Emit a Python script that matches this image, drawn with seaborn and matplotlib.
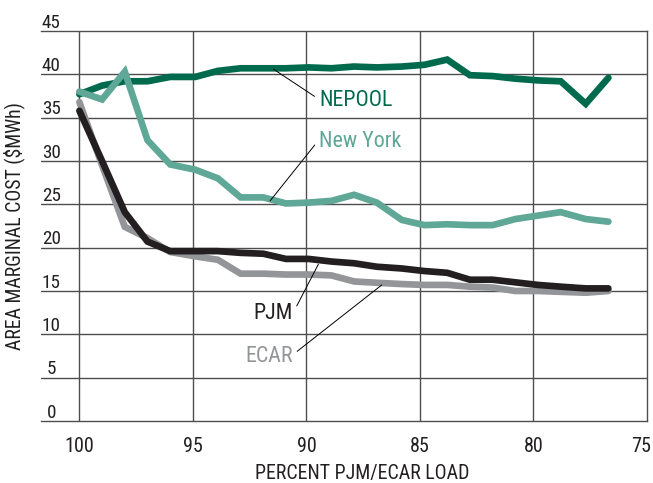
import pandas as pd
import seaborn as sns
import matplotlib.pyplot as plt
from matplotlib.transforms import ScaledTranslation

# percent PJM/ECAR load (x) and area marginal cost ($/MWh)
load = [100, 99, 98, 97, 96, 94.9, 93.9, 92.9, 91.9, 90.9, 89.9, 88.9,
        87.9, 86.9, 85.8, 84.8, 83.8, 82.8, 81.8, 80.8, 79.8, 78.8, 77.7, 76.7]
nepool = [37.7, 38.7, 39.2, 39.2, 39.7, 39.7, 40.4, 40.7, 40.7, 40.7, 40.8, 40.7,
          40.9, 40.8, 40.9, 41.1, 41.7, 39.9, 39.8, 39.5, 39.3, 39.2, 36.6, 39.6]
new_york = [38.0, 37.1, 40.3, 32.4, 29.6, 29.0, 28.0, 25.8, 25.8, 25.1, 25.2, 25.4,
            26.1, 25.2, 23.2, 22.6, 22.7, 22.6, 22.6, 23.3, 23.7, 24.1, 23.3, 23.0]
pjm = [35.8, 30.0, 24.1, 20.7, 19.6, 19.6, 19.6, 19.4, 19.3, 18.7, 18.7, 18.4,
       18.2, 17.8, 17.6, 17.3, 17.1, 16.3, 16.3, 16.0, 15.7, 15.5, 15.3, 15.3]
ecar = [36.8, 29.5, 22.4, 21.1, 19.5, 19.0, 18.6, 17.0, 17.0, 16.9, 16.9, 16.8,
        16.1, 15.95, 15.8, 15.7, 15.7, 15.5, 15.4, 15.0, 15.0, 14.9, 14.8, 15.0]

x_ticks = [100, 95, 90, 85, 80, 75]
y_ticks = [0, 5, 10, 15, 20, 25, 30, 35, 40, 45]

colors = {"ECAR": "#939598", "PJM": "#231f20", "NEPOOL": "#006a4e", "New York": "#5fa796"}
order = ["ECAR", "PJM", "NEPOOL", "New York"]

df = pd.concat([
    pd.DataFrame({"load": load, "cost": ecar, "area": "ECAR"}),
    pd.DataFrame({"load": load, "cost": pjm, "area": "PJM"}),
    pd.DataFrame({"load": load, "cost": nepool, "area": "NEPOOL"}),
    pd.DataFrame({"load": load, "cost": new_york, "area": "New York"}),
], ignore_index=True)

sns.set_style("white")
plt.rcParams["font.family"] = ["Roboto Condensed", "DejaVu Sans"]

fig = plt.figure(figsize=(6.53, 4.83), dpi=100)
ax = fig.add_axes([0.0628, 0.1284, 0.928, 0.8074])

grid_c = "#4d4d4d"
for v in x_ticks[:-1]:
    ax.axvline(v, color=grid_c, lw=1.0, zorder=1)
for v in y_ticks[1:-1]:
    ax.axhline(v, color=grid_c, lw=1.0, zorder=1)

sns.lineplot(data=df, x="load", y="cost", hue="area", hue_order=order,
             palette=colors, legend=False, ax=ax, linewidth=4.8,
             solid_capstyle="round", solid_joinstyle="miter", zorder=3)

ax.set_xlim(101.69, 75)
ax.set_ylim(0, 45)
ax.set_xticks(x_ticks)
ax.set_xticklabels([str(v) for v in x_ticks], fontsize=14.5)
ax.set_yticks([])
ax.tick_params(axis="x", length=0, pad=11.5, colors="#231f20")
# last label ("75") sits just inside the right edge
last = ax.get_xticklabels()[-1]
last.set_horizontalalignment("right")
last.set_transform(last.get_transform() + ScaledTranslation(4 / 100, 0, fig.dpi_scale_trans))
for s in ["top", "right", "bottom"]:
    ax.spines[s].set_color(grid_c)
    ax.spines[s].set_linewidth(1.0)
ax.spines["left"].set_visible(False)

# y tick labels sit above the grid lines, inside the left margin
for v in y_ticks:
    ax.annotate(str(v), xy=(0.017, v), xycoords=ax.get_yaxis_transform(),
                xytext=(0, 2.5), textcoords="offset points",
                ha="center", va="baseline", fontsize=13.8, color="#231f20")

# x label is centred on the data span (100 to 75), not the whole frame
ax.set_xlabel("PERCENT PJM/ECAR LOAD", fontsize=14.3, color="#231f20")
ax.xaxis.set_label_coords(0.53, -0.11)
ax.set_ylabel("")
ax.text(-0.0446, 0.5, "AREA MARGINAL COST ($MWh)", transform=ax.transAxes, rotation=90,
        ha="center", va="center", fontsize=14.2, color="#231f20")

leader = dict(arrowstyle="-", color="black", lw=0.7, shrinkA=1, shrinkB=0)
ax.annotate("NEPOOL", xy=(91.45, 40.6), xytext=(89.45, 37.0), ha="left", va="center",
            fontsize=15.8, color=colors["NEPOOL"], arrowprops=dict(leader, relpos=(0, 0.55)))
ax.annotate("New York", xy=(91.6, 25.4), xytext=(89.45, 32.2), ha="left", va="center",
            fontsize=15.8, color=colors["New York"], arrowprops=dict(leader, relpos=(0, 0.6)))
ax.annotate("PJM", xy=(89.47, 18.1), xytext=(90.6, 12.4), ha="right", va="center",
            fontsize=15.8, color=colors["PJM"], arrowprops=dict(leader, relpos=(1, 0.5)))
ax.annotate("ECAR", xy=(86.68, 15.7), xytext=(90.6, 7.4), ha="right", va="center",
            fontsize=15.8, color=colors["ECAR"], arrowprops=dict(leader, relpos=(1, 0.6)))

fig.savefig("out.png", dpi=100)
